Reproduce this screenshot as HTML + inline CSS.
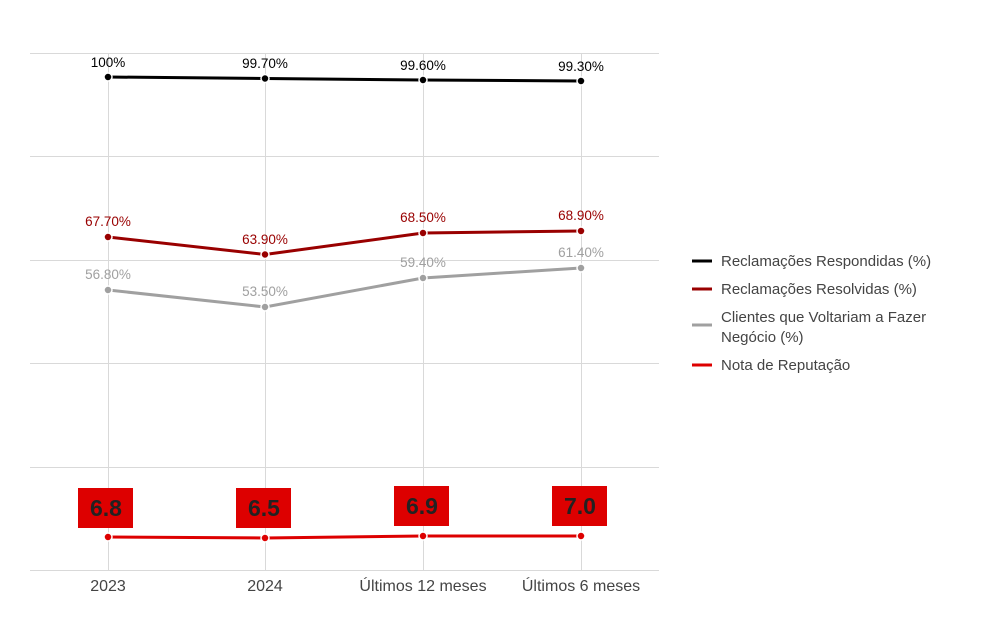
<!DOCTYPE html>
<html><head><meta charset="utf-8"><style>
body{margin:0;background:#fff;width:1003px;height:625px;overflow:hidden;font-family:"Liberation Sans","DejaVu Sans",sans-serif}
</style></head><body>
<svg width="1003" height="625" xmlns="http://www.w3.org/2000/svg" font-family="Liberation Sans, DejaVu Sans, sans-serif">
<g stroke="#d9d9d9" stroke-width="1">
<line x1="30" y1="53.5" x2="659" y2="53.5"/><line x1="30" y1="156.5" x2="659" y2="156.5"/>
<line x1="30" y1="260.5" x2="659" y2="260.5"/><line x1="30" y1="363.5" x2="659" y2="363.5"/>
<line x1="30" y1="467.5" x2="659" y2="467.5"/><line x1="30" y1="570.5" x2="659" y2="570.5"/>
<line x1="108.5" y1="53" x2="108.5" y2="570"/><line x1="265.5" y1="53" x2="265.5" y2="570"/>
<line x1="423.5" y1="53" x2="423.5" y2="570"/><line x1="581.5" y1="53" x2="581.5" y2="570"/>
</g>
<g fill="none" stroke-width="3">
<polyline stroke="#000" points="108,77 265,78.5 423,80 581,81"/>
<polyline stroke="#990000" points="108,237 265,254.5 423,233 581,231"/>
<polyline stroke="#a0a0a0" points="108,290 265,307 423,278 581,268"/>
<polyline stroke="#dd0000" points="108,537 265,538 423,536 581,536"/>
</g>
<g stroke="#fff" stroke-width="1.5">
<circle cx="108" cy="77" r="4" fill="#000"/><circle cx="265" cy="78.5" r="4" fill="#000"/><circle cx="423" cy="80" r="4" fill="#000"/><circle cx="581" cy="81" r="4" fill="#000"/>
<circle cx="108" cy="237" r="4" fill="#990000"/><circle cx="265" cy="254.5" r="4" fill="#990000"/><circle cx="423" cy="233" r="4" fill="#990000"/><circle cx="581" cy="231" r="4" fill="#990000"/>
<circle cx="108" cy="290" r="4" fill="#a0a0a0"/><circle cx="265" cy="307" r="4" fill="#a0a0a0"/><circle cx="423" cy="278" r="4" fill="#a0a0a0"/><circle cx="581" cy="268" r="4" fill="#a0a0a0"/>
<circle cx="108" cy="537" r="4" fill="#dd0000"/><circle cx="265" cy="538" r="4" fill="#dd0000"/><circle cx="423" cy="536" r="4" fill="#dd0000"/><circle cx="581" cy="536" r="4" fill="#dd0000"/>
</g>
<g font-size="13.5" text-anchor="middle">
<text x="108" y="67" fill="#000">100%</text><text x="265" y="68" fill="#000">99.70%</text><text x="423" y="70" fill="#000">99.60%</text><text x="581" y="71" fill="#000">99.30%</text>
<text x="108" y="226" fill="#990000">67.70%</text><text x="265" y="244" fill="#990000">63.90%</text><text x="423" y="222" fill="#990000">68.50%</text><text x="581" y="220" fill="#990000">68.90%</text>
<text x="108" y="279" fill="#a0a0a0">56.80%</text><text x="265" y="296" fill="#a0a0a0">53.50%</text><text x="423" y="267" fill="#a0a0a0">59.40%</text><text x="581" y="257" fill="#a0a0a0">61.40%</text>
</g>
<g fill="#dd0000">
<rect x="78" y="488" width="55" height="40"/><rect x="236" y="488" width="55" height="40"/><rect x="394" y="486" width="55" height="40"/><rect x="552" y="486" width="55" height="40"/>
</g>
<g font-size="23" font-weight="bold" fill="#222" text-anchor="middle">
<text x="106" y="516">6.8</text><text x="264" y="516">6.5</text><text x="422" y="514">6.9</text><text x="580" y="514">7.0</text>
</g>
<g font-size="16" fill="#444" text-anchor="middle">
<text x="108" y="591">2023</text><text x="265" y="591">2024</text><text x="423" y="591">Últimos 12 meses</text><text x="581" y="591">Últimos 6 meses</text>
</g>
<g stroke-width="3">
<line x1="692" y1="261" x2="712" y2="261" stroke="#000"/>
<line x1="692" y1="289" x2="712" y2="289" stroke="#990000"/>
<line x1="692" y1="325" x2="712" y2="325" stroke="#a0a0a0"/>
<line x1="692" y1="365" x2="712" y2="365" stroke="#dd0000"/>
</g>
<g font-size="15" fill="#444">
<text x="721" y="266">Reclamações Respondidas (%)</text>
<text x="721" y="294">Reclamações Resolvidas (%)</text>
<text x="721" y="322">Clientes que Voltariam a Fazer</text>
<text x="721" y="342">Negócio (%)</text>
<text x="721" y="370">Nota de Reputação</text>
</g>
</svg>
</body></html>
